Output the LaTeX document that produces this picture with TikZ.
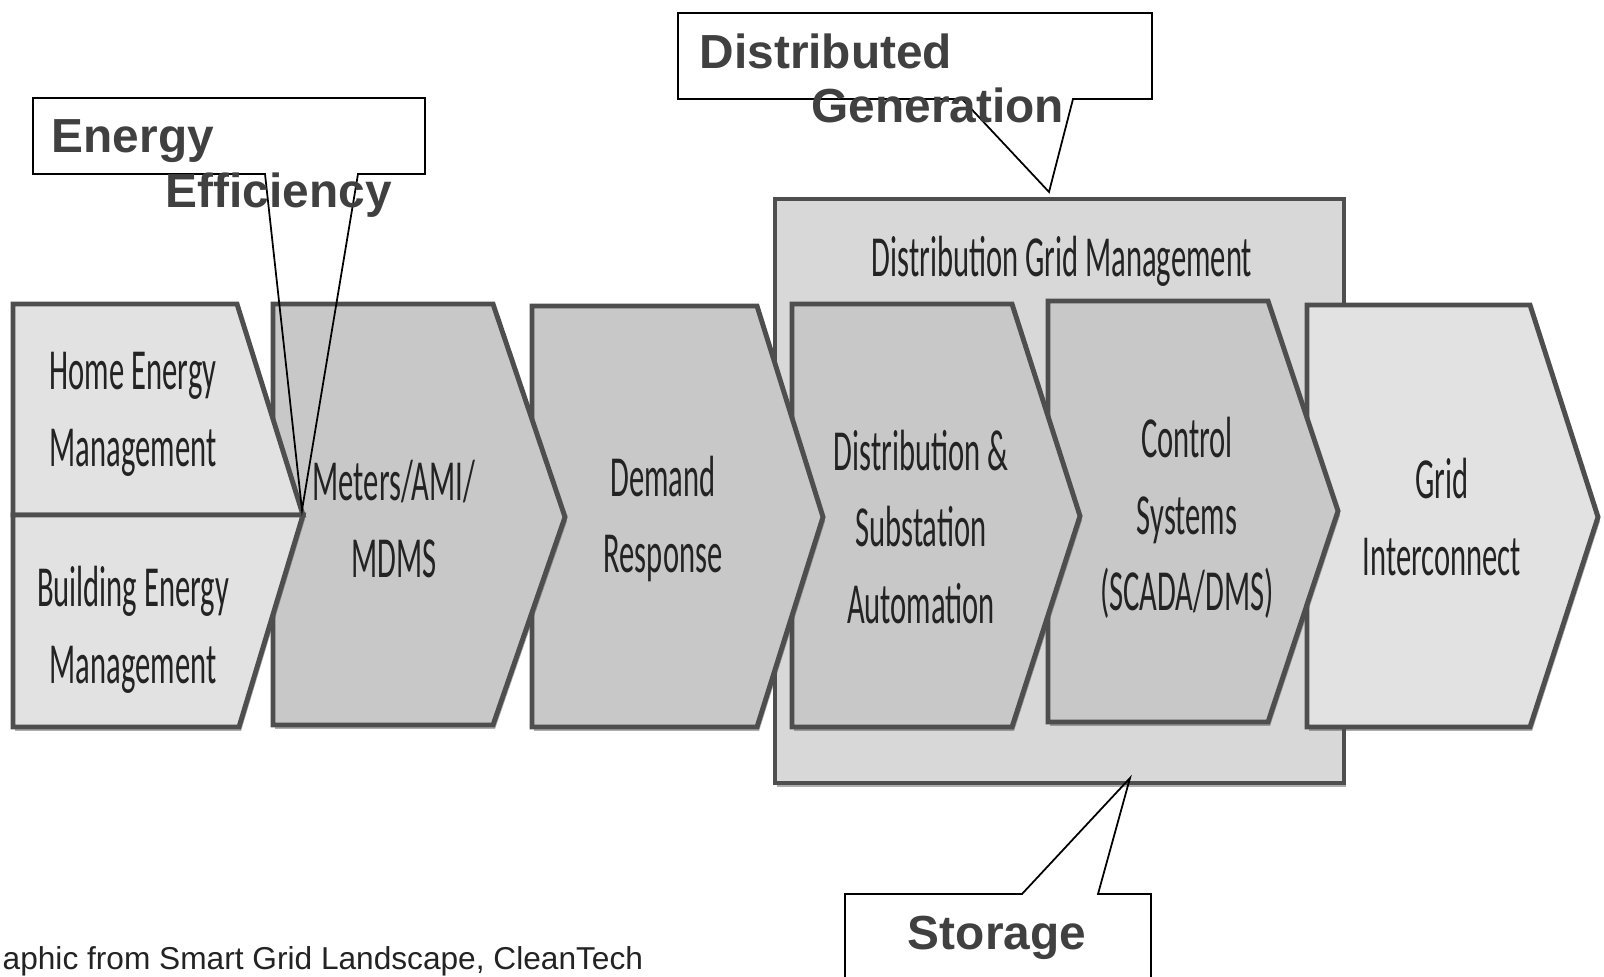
\documentclass[tikz,border=0pt]{standalone}
\usepackage{fontspec}
\setmainfont{Carlito}
\newfontfamily\calloutfont{Liberation Sans}
\usetikzlibrary{positioning, shadows}
\definecolor{cPale}{RGB}{226,226,226}
\definecolor{cMid}{RGB}{200,200,200}
\definecolor{cFrame}{RGB}{216,216,216}
\definecolor{cEdge}{RGB}{78,78,78}
\definecolor{cInk}{RGB}{35,35,35}
\definecolor{cCall}{RGB}{64,64,64}

\begin{document}
\begin{tikzpicture}[x=0.01cm, y=-0.01cm,
        chev/.style={draw=cEdge, line width=1.4pt, line join=miter,
        drop shadow={shadow xshift=0.6pt, shadow yshift=-1.1pt, opacity=0.45, fill=black!70}},
        tag/.style={align=center, text=cInk, inner sep=0pt,
        font=\fontsize{8.7}{11.5}\selectfont, yscale=1.9, transform shape},
        callout/.style={draw=black, line width=0.5pt, line join=miter},
        calltext/.style={anchor=base west, inner sep=0pt, text=cCall,
        font=\calloutfont\bfseries\fontsize{13.6}{15.6}\selectfont}
    ]
        \useasboundingbox (0,0) rectangle (1604,977);

        % --- Distribution Grid Management frame ---
        \draw[chev, fill=cFrame] (775,199) rectangle (1344,783);
        \node[tag] (dgm) at (1062,261) {Distribution Grid Management};

        % --- chevrons, right to left so each tip lies on top of the next box ---
        \draw[chev, fill=cPale] (1307,305) -- (1530,305) -- (1598,517) -- (1530,727) -- (1307,727) -- cycle;
        \draw[chev, fill=cMid]  (1048,301) -- (1268,301) -- (1338,511) -- (1268,722) -- (1048,722) -- cycle;
        \draw[chev, fill=cMid]  (792,304) -- (1012,304) -- (1080,516) -- (1012,727) -- (792,727) -- cycle;
        \draw[chev, fill=cMid]  (532,306) -- (757,306) -- (823,517) -- (757,727) -- (532,727) -- cycle;
        \draw[chev, fill=cMid]  (273,304) -- (493,304) -- (565,517) -- (493,725) -- (273,725) -- cycle;
        \draw[chev, fill=cPale] (13,304) -- (237,304) -- (303,515) -- (13,515) -- cycle;
        \draw[chev, fill=cPale] (13,515) -- (303,515) -- (239,727) -- (13,727) -- cycle;

        \node[tag] (home)   at (133,414)  {Home Energy\\Management};
        \node[tag] (bldg)   at (133,630)  {Building Energy\\Management};
        \node[tag] (meters) at (394,519)  {Meters/AMI/\\MDMS};
        \node[tag] (demand) at (663,519)  {Demand\\Response};
        \node[tag] (dsa)    at (921,527)  {Distribution \&\\Substation\\Automation};
        \node[tag] (ctrl)   at (1187,518) {Control\\Systems\\(SCADA/DMS)};
        \node[tag] (grid)   at (1442,517) {Grid\\Interconnect};

        % --- callouts ---
        \draw[callout] (33,98) -- (425,98) -- (425,174) -- (358,174) -- (302,510) -- (265,174) -- (33,174) -- cycle;
        \node[calltext] (enrg) at (51,153)  {Energy};
        \node[calltext] (effc) at (165,208) {Efficiency};

        \draw[callout] (678,13) -- (1152,13) -- (1152,99) -- (1073,99) -- (1049,192) -- (962,99) -- (678,99) -- cycle;
        \node[calltext] (dist) at (699,69)  {Distributed};
        \node[calltext] (gene) at (811,123) {Generation};

        \draw[callout] (845,995) -- (845,894) -- (1022,894) -- (1130,778) -- (1098,894) -- (1151,894) -- (1151,995);
        \node[calltext, anchor=base] (stor) at (997,949) {Storage};

        \node[anchor=base west, inner sep=0pt, text=cInk,
            font=\calloutfont\fontsize{9}{11}\selectfont] (credit) at (2,969)
            {aphic from Smart Grid Landscape, CleanTech};

    \end{tikzpicture}
\end{document}
